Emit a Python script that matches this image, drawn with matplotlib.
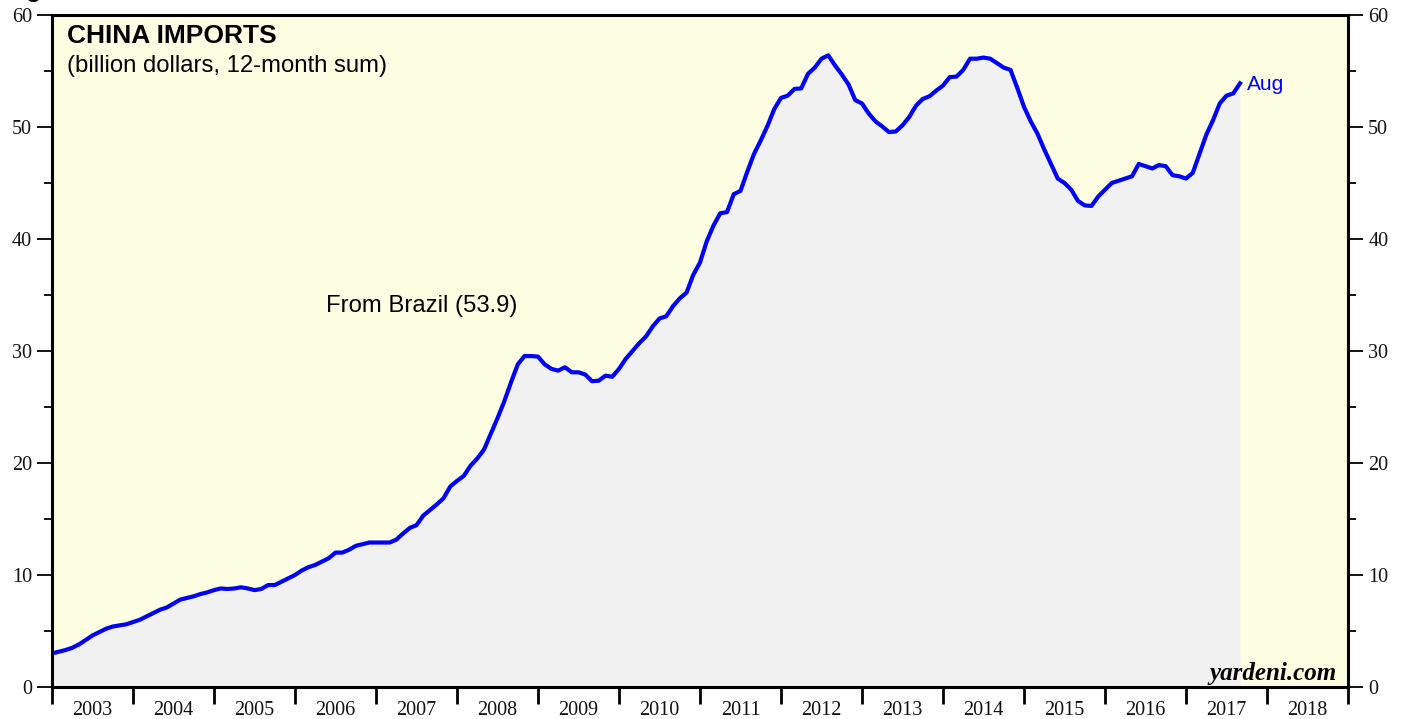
import pandas as pd
import matplotlib
matplotlib.use('Agg')
import matplotlib.pyplot as plt
from matplotlib.ticker import MultipleLocator, FixedLocator, NullFormatter

# monthly, Jan 2003 .. Aug 2017 (billion dollars, 12-month sum)
months = pd.date_range('2003-01-01', periods=177, freq='MS')
brazil = [
    3.0, 3.15, 3.3, 3.5, 3.8, 4.2, 4.6, 4.9, 5.2, 5.4, 5.5, 5.6,
    5.8, 6.0, 6.3, 6.6, 6.9, 7.1, 7.45, 7.8, 7.95, 8.1, 8.3, 8.45,
    8.65, 8.8, 8.75, 8.8, 8.9, 8.8, 8.65, 8.75, 9.1, 9.1, 9.4, 9.7,
    10.0, 10.4, 10.7, 10.9, 11.2, 11.5, 12.0, 12.0, 12.25, 12.6, 12.75, 12.9,
    12.9, 12.9, 12.9, 13.15, 13.7, 14.2, 14.45, 15.3, 15.8, 16.3, 16.85, 17.9,
    18.4, 18.85, 19.75, 20.4, 21.2, 22.6, 24.0, 25.5, 27.2, 28.8, 29.55, 29.55,
    29.5, 28.8, 28.4, 28.25, 28.55, 28.1, 28.1, 27.9, 27.3, 27.35, 27.8, 27.7,
    28.4, 29.3, 30.0, 30.7, 31.3, 32.2, 32.9, 33.1, 34.0, 34.7, 35.2, 36.8,
    37.9, 39.8, 41.2, 42.3, 42.4, 44.0, 44.3, 46.0, 47.6, 48.8, 50.1, 51.6,
    52.6, 52.8, 53.4, 53.45, 54.75, 55.3, 56.1, 56.4, 55.5, 54.7, 53.8, 52.4,
    52.1, 51.2, 50.5, 50.05, 49.55, 49.6, 50.15, 50.9, 51.9, 52.5, 52.75, 53.25,
    53.7, 54.45, 54.5, 55.1, 56.1, 56.1, 56.2, 56.1, 55.7, 55.3, 55.1, 53.5,
    51.8, 50.5, 49.4, 48.0, 46.7, 45.4, 45.0, 44.4, 43.4, 43.0, 42.95, 43.8,
    44.4, 45.0, 45.2, 45.4, 45.6, 46.7, 46.5, 46.3, 46.6, 46.5, 45.7, 45.6,
    45.4, 45.9, 47.6, 49.3, 50.6, 52.1, 52.8, 53.0, 53.9,
]
years = list(range(2003, 2019))
year_labels = [str(y) for y in years]

x = months.year + (months.month - 1) / 12.0

fig = plt.figure(figsize=(14.08, 7.19), dpi=100)
ax = fig.add_axes([52 / 1408, 32 / 719, 1296 / 1408, 672 / 719])
ax.set_facecolor('#fefee3')

ax.fill_between(x, brazil, 0, color='#f1f1f1', lw=0)
ax.plot(x, brazil, color='#0000ff', lw=3)

ax.set_xlim(2003, 2019)
ax.set_ylim(0, 60)

for s in ax.spines.values():
    s.set_linewidth(2.2)

serif = 'Liberation Serif'
ax.yaxis.set_major_locator(MultipleLocator(10))
ax.yaxis.set_minor_locator(MultipleLocator(5))
ax.tick_params(axis='y', which='both', direction='out', left=True, right=True,
               labelleft=True, labelright=True, width=1.4, labelsize=14.5, colors='#111')
ax.tick_params(axis='y', which='major', length=11, pad=3.5)
ax.tick_params(axis='y', which='minor', length=6)

ax.xaxis.set_major_locator(FixedLocator(years + [2019]))
ax.xaxis.set_major_formatter(NullFormatter())
ax.xaxis.set_minor_locator(FixedLocator([y + 0.5 for y in years]))
ax.set_xticklabels(year_labels, minor=True)
ax.tick_params(axis='x', which='major', direction='out', length=12, width=2)
ax.tick_params(axis='x', which='minor', length=0, pad=10, labelsize=14.5, colors='#111')
for lab in ax.get_xticklabels(minor=True):
    lab.set_family(serif)
for t in ax.yaxis.get_major_ticks():
    t.label1.set_family(serif)
    t.label2.set_family(serif)

sans = 'Liberation Sans'
ax.text(0.0116, 0.958, 'CHINA IMPORTS', transform=ax.transAxes, family=sans,
        fontsize=19, fontweight='bold', va='baseline')
ax.text(0.0116, 0.915, '(billion dollars, 12-month sum)', transform=ax.transAxes,
        family=sans, fontsize=17.2, va='baseline')
ax.text(2006.383, 33.5, 'From Brazil (53.9)', family=sans, fontsize=17.2, va='baseline')
ax.text(2017.75, 53.8, 'Aug', family=sans, fontsize=15, color='#0000ff', va='center')
ax.text(0.9915, 0.0104, 'yardeni.com', transform=ax.transAxes, family=serif,
        fontsize=18, fontweight='bold', style='italic', ha='right', va='baseline')

# page heading, cut off by the top edge as in the source image
fig.text(4 / 1408, 1 + 3 / 719, 'Figure', family=sans, fontsize=18, fontweight='bold',
         va='baseline')

fig.savefig('out.png', dpi=100)
